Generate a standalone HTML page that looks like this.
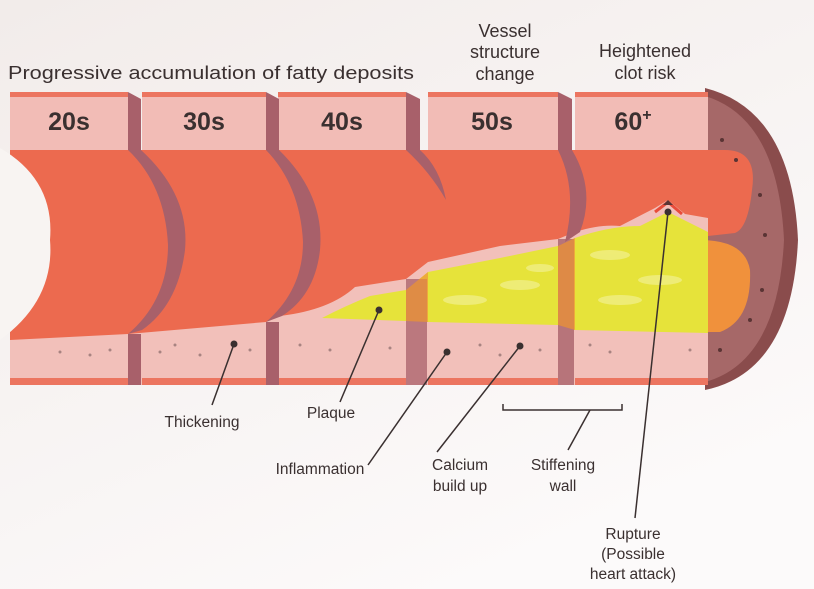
<!DOCTYPE html>
<html><head><meta charset="utf-8"><style>
html,body{margin:0;padding:0;background:#f6f1ee;}
svg{display:block;}
text{font-family:"Liberation Sans",sans-serif;fill:#3a3030;}
</style></head><body>
<svg width="814" height="589" viewBox="0 0 814 589" xmlns="http://www.w3.org/2000/svg">
<defs>
<linearGradient id="bg" x1="0" y1="0" x2="0.6" y2="1"><stop offset="0" stop-color="#f2ecea"/><stop offset="1" stop-color="#fcfafa"/></linearGradient>
</defs>
<rect width="814" height="589" fill="url(#bg)"/>

<!-- right end cap -->
<path d="M705,88 Q792,110 798,240 Q792,372 705,390 Z" fill="#8a4c4c"/>
<path d="M705,96 Q778,118 784,240 Q778,362 705,382 Z" fill="#a66868"/>

<!-- lumen -->
<path d="M10,150 L725,150 Q758,150 752,190 Q748,228 735,233 L708,236 L708,340 L10,340 Z" fill="#ec6a4f"/>
<!-- left concave white -->
<path d="M0,148 Q55,180 50,240 Q55,300 0,340 Z" fill="#f8f4f2"/>
<!-- orange blob right -->
<path d="M700,240 Q745,240 750,270 Q752,320 720,332 L700,332 Z" fill="#f0913c"/>

<!-- pink lower wall -->
<path d="M10,340 L128,334 L266,322 L280,316 Q330,310 355,287 L406,279 L428,262 L500,246 L558,239 L575,232 Q600,224 620,226 L655,208 L668,200 L685,214 L708,218 L708,385 L10,385 Z" fill="#f2c0ba"/>

<!-- yellow plaque -->
<path d="M322,318 Q345,306 370,296 L406,290 L428,272 L500,258 L558,246 L575,238 Q610,226 640,226 L668,212 L708,232 L708,333 L575,330 L558,325 L428,322 L406,321 Z" fill="#e6e33a"/>
<g fill="#f2f090" opacity="0.7">
<ellipse cx="465" cy="300" rx="22" ry="5"/><ellipse cx="520" cy="285" rx="20" ry="5"/><ellipse cx="610" cy="255" rx="20" ry="5"/><ellipse cx="660" cy="280" rx="22" ry="5"/><ellipse cx="620" cy="300" rx="22" ry="5"/><ellipse cx="540" cy="268" rx="14" ry="4"/>
</g>
<path d="M655,212 L668,202 L682,214" fill="none" stroke="#e84c3a" stroke-width="3"/>
<path d="M663,205 L668,200 L673,205 Z" fill="#5a3434"/>

<!-- top walls -->
<g fill="#f2bcb6">
<rect x="10" y="92" width="118" height="58"/>
<rect x="142" y="92" width="124" height="58"/>
<rect x="278" y="92" width="128" height="58"/>
<rect x="428" y="92" width="130" height="58"/>
<rect x="575" y="92" width="133" height="58"/>
</g>
<g fill="#ec7560">
<rect x="10" y="92" width="118" height="5"/>
<rect x="142" y="92" width="124" height="5"/>
<rect x="278" y="92" width="128" height="5"/>
<rect x="428" y="92" width="130" height="5"/>
<rect x="575" y="92" width="133" height="5"/>
<rect x="10" y="378" width="118" height="7"/>
<rect x="142" y="378" width="124" height="7"/>
<rect x="278" y="378" width="128" height="7"/>
<rect x="428" y="378" width="130" height="7"/>
<rect x="575" y="378" width="133" height="7"/>
</g>

<!-- side faces / crescents -->
<g fill="#a8606a">
<path d="M128,92 L141,99 L141,150 Q190,195 185,250 Q178,305 142,330 L128,334 Q168,300 168,245 Q165,185 128,150 Z"/>
<path d="M266,92 L279,99 L279,150 Q325,195 320,250 Q315,295 282,316 L266,322 Q303,290 303,242 Q300,185 266,150 Z"/>
<path d="M406,92 L420,99 L420,150 Q440,168 446,200 Q430,172 406,150 Z"/>
<path d="M558,92 L572,99 L572,150 Q596,190 580,232 L565,242 Q578,190 558,150 Z"/>
</g>
<g fill="#a8606a">
<rect x="128" y="334" width="13" height="51"/>
<rect x="266" y="322" width="13" height="63"/>
<rect x="406" y="279" width="21" height="106" opacity="0.75"/>
<rect x="558" y="239" width="16" height="146" opacity="0.8"/>
</g>
<!-- translucent orange over plaque in gaps -->
<path d="M406,290 L428,272 L428,322 L406,321 Z" fill="#f0913c" opacity="0.7"/>
<path d="M558,246 L575,238 L575,330 L558,325 Z" fill="#f0913c" opacity="0.7"/>

<!-- speckles -->
<g fill="#8a6a6a" opacity="0.7">
<circle cx="60" cy="352" r="1.5"/><circle cx="90" cy="355" r="1.5"/><circle cx="110" cy="350" r="1.5"/>
<circle cx="160" cy="352" r="1.5"/><circle cx="175" cy="345" r="1.5"/><circle cx="200" cy="355" r="1.5"/><circle cx="250" cy="350" r="1.5"/>
<circle cx="300" cy="345" r="1.5"/><circle cx="330" cy="350" r="1.5"/><circle cx="390" cy="348" r="1.5"/>
<circle cx="480" cy="345" r="1.5"/><circle cx="500" cy="355" r="1.5"/><circle cx="540" cy="350" r="1.5"/>
<circle cx="590" cy="345" r="1.5"/><circle cx="610" cy="352" r="1.5"/><circle cx="690" cy="350" r="1.5"/>
</g>
<g fill="#5a3434">
<circle cx="722" cy="140" r="2"/><circle cx="736" cy="160" r="2"/><circle cx="760" cy="195" r="2"/><circle cx="765" cy="235" r="2"/><circle cx="762" cy="290" r="2"/><circle cx="750" cy="320" r="2"/><circle cx="720" cy="350" r="2"/>
</g>

<!-- box labels -->
<g font-weight="bold" font-size="25" fill="#4a3a3a">
<text x="69" y="130" text-anchor="middle">20s</text>
<text x="204" y="130" text-anchor="middle">30s</text>
<text x="342" y="130" text-anchor="middle">40s</text>
<text x="492" y="130" text-anchor="middle">50s</text>
<text x="633" y="130" text-anchor="middle">60<tspan dy="-10" font-size="16">+</tspan></text>
</g>

<!-- headings -->
<g font-size="18">
<text x="8" y="79" textLength="406" lengthAdjust="spacingAndGlyphs">Progressive accumulation of fatty deposits</text>
<text x="505" y="37" text-anchor="middle">Vessel</text>
<text x="505" y="58" text-anchor="middle">structure</text>
<text x="505" y="80" text-anchor="middle">change</text>
<text x="645" y="57" text-anchor="middle">Heightened</text>
<text x="645" y="79" text-anchor="middle">clot risk</text>
</g>

<!-- leaders -->
<g stroke="#3a3030" stroke-width="1.5" fill="none">
<line x1="212" y1="405" x2="234" y2="344"/>
<line x1="340" y1="402" x2="379" y2="310"/>
<line x1="368" y1="465" x2="447" y2="352"/>
<line x1="437" y1="452" x2="520" y2="346"/>
<polyline points="503,404 503,410 622,410 622,404"/>
<line x1="590" y1="410" x2="568" y2="450"/>
<line x1="635" y1="518" x2="668" y2="212"/>
</g>
<g fill="#3a3030">
<circle cx="234" cy="344" r="3.5"/><circle cx="379" cy="310" r="3.5"/><circle cx="447" cy="352" r="3.5"/><circle cx="520" cy="346" r="3.5"/><circle cx="668" cy="212" r="3.5"/>
</g>
<g font-size="15.5">
<text x="202" y="427" text-anchor="middle">Thickening</text>
<text x="331" y="418" text-anchor="middle">Plaque</text>
<text x="320" y="474" text-anchor="middle">Inflammation</text>
<text x="460" y="470" text-anchor="middle">Calcium</text>
<text x="460" y="491" text-anchor="middle">build up</text>
<text x="563" y="470" text-anchor="middle">Stiffening</text>
<text x="563" y="491" text-anchor="middle">wall</text>
<text x="633" y="539" text-anchor="middle">Rupture</text>
<text x="633" y="559" text-anchor="middle">(Possible</text>
<text x="633" y="579" text-anchor="middle">heart attack)</text>
</g>
</svg>
</body></html>
